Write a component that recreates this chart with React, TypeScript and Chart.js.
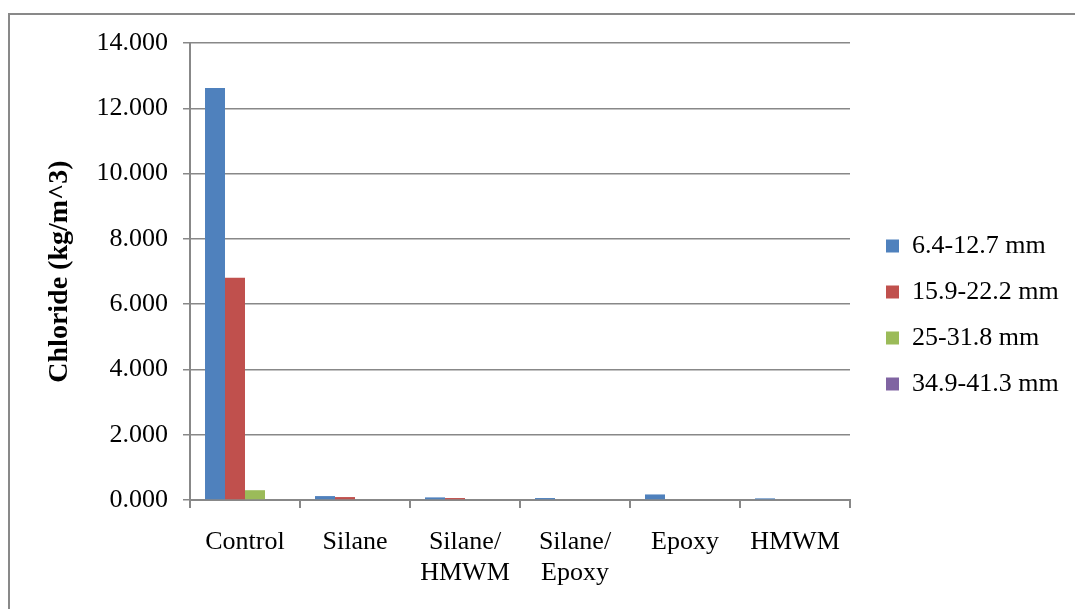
import React, { useEffect, useRef } from "react";
import { Chart, registerables } from "chart.js";

Chart.register(...registerables);

const categories: (string | string[])[] = [
  "Control",
  "Silane",
  ["Silane/", "HMWM"],
  ["Silane/", "Epoxy"],
  "Epoxy",
  "HMWM",
];
const seriesLabels = ["6.4-12.7 mm", "15.9-22.2 mm", "25-31.8 mm", "34.9-41.3 mm"];
const depth1 = [12.62, 0.12, 0.08, 0.06, 0.17, 0.05];
const depth2 = [6.81, 0.09, 0.06, 0.0, 0.0, 0.0];
const depth3 = [0.3, 0, 0, 0, 0, 0];
const depth4 = [0, 0, 0, 0, 0, 0];
const yMin = 0;
const yMax = 14;
const yStep = 2;
const yTitle = "Chloride (kg/m^3)";

const colors = ["#4F81BD", "#C0504D", "#9BBB59", "#8064A2"];
const FONT = "'Liberation Serif', 'Times New Roman', serif";
const GRID = "#888888";

const layoutPlugin = {
  id: "layoutTweaks",
  afterInit(chart: any) {
    const lg = chart.legend;
    if (lg && !lg.__patched) {
      const orig = lg.fit.bind(lg);
      lg.fit = () => {
        orig();
        lg.width = 225;
      };
      lg.__patched = true;
    }
  },
  afterLayout(chart: any) {
    const lg = chart.legend;
    if (lg) {
      const dx = 886 - (lg.left + 20);
      lg.left += dx;
      lg.right += dx;
    }
  },
  beforeDraw(chart: any) {
    const ctx = chart.ctx;
    ctx.save();
    ctx.strokeStyle = "#898989";
    ctx.lineWidth = 2;
    ctx.strokeRect(9, 14, chart.width + 40, chart.height + 40);
    ctx.restore();
  },
};

export default function App() {
  const ref = useRef<HTMLCanvasElement | null>(null);

  useEffect(() => {
    if (!ref.current) return;
    const series = [depth1, depth2, depth3, depth4];
    const chart = new Chart(ref.current, {
      type: "bar",
      data: {
        labels: categories as any,
        datasets: series.map((d, i) => ({
          label: seriesLabels[i],
          data: d,
          backgroundColor: colors[i],
          borderWidth: 0,
          categoryPercentage: 0.727,
          barPercentage: 1,
        })),
      },
      options: {
        responsive: false,
        animation: false,
        layout: { padding: { left: 0, top: 43, right: 0, bottom: 22 } },
        plugins: {
          tooltip: { enabled: false },
          legend: {
            position: "right",
            labels: {
              boxWidth: 13,
              boxHeight: 13,
              padding: 20,
              color: "#000",
              font: { family: FONT, size: 26 },
            },
          },
        },
        scales: {
          x: {
            afterFit: (s: any) => {
              s.height = 87;
            },
            grid: {
              display: true,
              drawOnChartArea: false,
              drawTicks: true,
              tickLength: 8,
              offset: true,
              color: GRID,
              lineWidth: 2,
            },
            border: { display: true, color: GRID, width: 2 },
            ticks: {
              color: "#000",
              padding: 18,
              maxRotation: 0,
              autoSkip: false,
              font: { family: FONT, size: 26, lineHeight: 1.22 },
            },
          },
          y: {
            min: yMin,
            max: yMax,
            afterFit: (s: any) => {
              s.width = 190;
            },
            grid: {
              color: GRID,
              lineWidth: 1.5,
              tickLength: 7,
              drawTicks: true,
            },
            border: { display: true, color: GRID, width: 2 },
            ticks: {
              stepSize: yStep,
              color: "#000",
              padding: 15,
              font: { family: FONT, size: 26 },
              callback: (v: any) => Number(v).toFixed(3),
            },
            title: {
              display: true,
              text: yTitle,
              color: "#000",
              padding: { top: 43, bottom: 0 },
              font: { family: FONT, size: 28, weight: "bold" },
            },
          },
        },
      },
      plugins: [layoutPlugin],
    });
    return () => chart.destroy();
  }, []);

  return (
    <div style={{ position: "fixed", left: 0, top: 0, width: 1075, height: 609, background: "#fff" }}>
      <canvas ref={ref} width={1075} height={609} style={{ display: "block" }} />
    </div>
  );
}
